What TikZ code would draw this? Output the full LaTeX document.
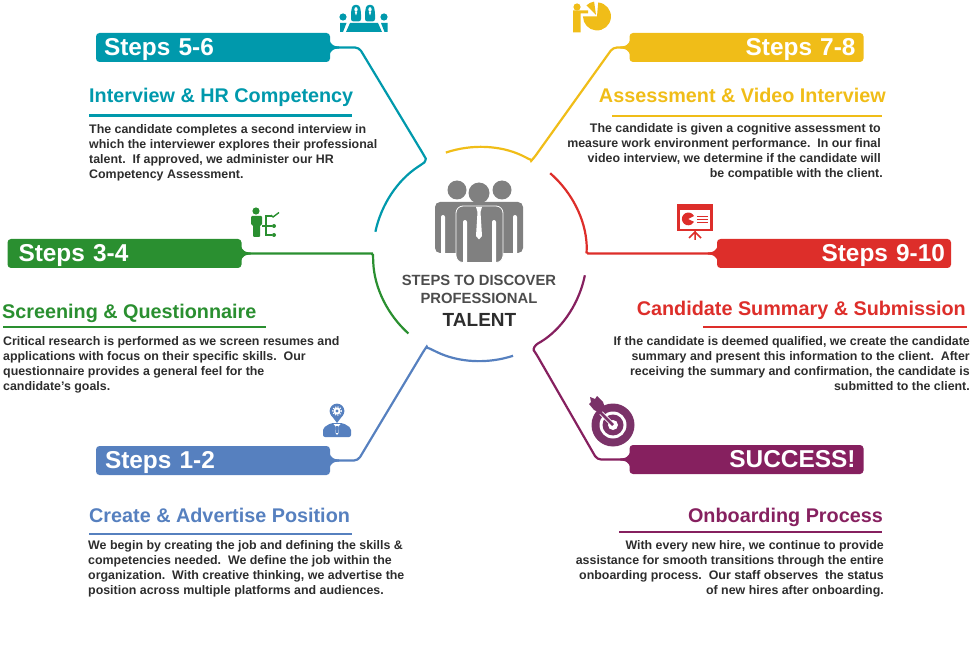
\documentclass[tikz,border=0pt]{standalone}
\usepackage{fontspec}
\setmainfont{Liberation Sans}
\usepackage{xcolor}
\usetikzlibrary{calc}
\definecolor{hrteal}{RGB}{0,153,172}
\definecolor{hrgreen}{RGB}{42,143,48}
\definecolor{hrblue}{RGB}{86,128,191}
\definecolor{hryellow}{RGB}{240,189,24}
\definecolor{hrred}{RGB}{221,46,42}
\definecolor{hrpurple}{RGB}{134,32,95}
\definecolor{hrtarget}{RGB}{122,50,104}
\definecolor{hrgray}{RGB}{128,128,128}
\definecolor{hrtext}{RGB}{45,45,45}
\tikzset{
  stepbar/.style={rectangle,rounded corners=3.5pt,minimum height=29pt,minimum width=234pt,
    text width=218pt,inner sep=0pt,text=white,
    font=\fontsize{24.4}{26}\bfseries\selectfont,text height=18pt,text depth=2pt},
  headtext/.style={inner sep=0pt,font=\fontsize{19.8}{22}\bfseries\selectfont},
  bodyleft/.style={inner sep=0pt,anchor=north west,align=left,text=hrtext,
    font=\fontsize{12.4}{15}\bfseries\selectfont},
  bodyright/.style={bodyleft,anchor=north east,align=right},
  ringline/.style={line width=2.2pt,rounded corners=4pt},
  underline/.style={line width=2.4pt},
  centertext/.style={inner sep=0pt,text=hrtext!85,font=\fontsize{14.8}{16}\bfseries\selectfont}
}
\begin{document}
\begin{tikzpicture}[x=1pt,y=-1pt]
    \useasboundingbox (0,0) rectangle (970,647);
    % step bars
    \node[stepbar,fill=hrteal,align=left] (barthree) at (213,47.5) {Steps 5-6};
    \node[stepbar,fill=hrgreen,align=left] (bartwo) at (124.5,253.5) {\hspace*{3pt}Steps 3-4};
    \node[stepbar,fill=hrblue,align=left] (barone) at (213,460.5) {\hspace*{1pt}Steps 1-2};
    \node[stepbar,fill=hryellow,align=right] (barfour) at (746.5,47.5) {Steps 7-8};
    \node[stepbar,fill=hrred,align=right] (barfive) at (834,253.5) {Steps 9-10\hspace*{-2pt}};
    \node[stepbar,fill=hrpurple,align=right] (barsix) at (746.5,459.5) {SUCCESS!};
    % little flares where a line leaves a bar
    \foreach \bar/\side/\sgn/\col in {barthree/east/1/hrteal,bartwo/east/1/hrgreen,barone/east/1/hrblue,
        barfour/west/-1/hryellow,barfive/west/-1/hrred,barsix/west/-1/hrpurple}
      \fill[\col,shift={(\bar.\side)},xscale=\sgn] (-1,-7.5) .. controls (1,-3) and (3,-1) .. (9,-1)
        -- (9,1) .. controls (3,1) and (1,3) .. (-1,7.5) -- cycle;
    % lines around the ring
    \draw[hrteal,ringline] (barthree.east) -- (359,47.5) -- (423.9,155.2)
      .. controls (425.96,159) and (424.9,162.1) .. (421,164.8) arc[start angle=123.5,end angle=168,radius=107pt];
    \draw[hrgreen,ringline] (bartwo.east) -- (368,253.5)
      .. controls (371.3,253.5) and (373.03,255.3) .. (373.1,259) arc[start angle=182.7,end angle=228,radius=107pt];
    \draw[hrblue,ringline] (barone.east) -- (358,460.5) -- (424.4,349.8)
      .. controls (425.8,347.9) and (428.7,348.1) .. (433.1,350.2) arc[start angle=244,end angle=288,radius=107pt];
    \draw[hryellow,ringline] (barfour.west) -- (613,47.5) -- (533.9,158)
      .. controls (532.3,159.7) and (529.4,159.3) .. (525.2,157) arc[start angle=65,end angle=108.6,radius=107pt];
    \draw[hrred,ringline] (barfive.west) -- (592,253.5)
      .. controls (588.3,253.5) and (586.6,251.8) .. (586.85,248.4) arc[start angle=3,end angle=49,radius=107pt];
    \draw[hrpurple,ringline] (barsix.west) -- (597,459.5) -- (536,353.5)
      .. controls (533,349.2) and (534.8,345.2) .. (541.4,341.6) arc[start angle=-55,end angle=-11.5,radius=107pt];
    % center people
    \fill[hrgray] (457,190) circle (9.5);
    \fill[hrgray] (502,190) circle (9.5);
    \fill[hrgray,rounded corners=5pt] (435,202) rectangle (523,253);
    \filldraw[white,fill=hrgray,line width=0.8pt,rounded corners=7pt] (456,262.5) rectangle (503,206);
    \fill[hrgray] (479,193) circle (10.5);
    \fill[white] (463,222) arc[start angle=180,end angle=0,radius=2pt] -- (467,263) -- (463,263) -- cycle;
    \fill[white] (492,222) arc[start angle=180,end angle=0,radius=2pt] -- (496,263) -- (492,263) -- cycle;
    \fill[white] (441,217) arc[start angle=180,end angle=0,radius=2pt] -- (445,253) -- (441,253) -- cycle;
    \fill[white] (513,217) arc[start angle=180,end angle=0,radius=2pt] -- (517,253) -- (513,253) -- cycle;
    \fill[white] (476,207) -- (482,207) -- (480.5,212) -- (482,236) -- (479,239.5) -- (476,236) -- (477.5,212) -- cycle;
    % center text
    \node[centertext] (stepstext) at (479,280) {STEPS TO DISCOVER};
    \node[centertext] (proftext) at (479,298) {PROFESSIONAL};
    \node[centertext,text=hrtext,font=\fontsize{19}{21}\bfseries\selectfont] (talenttext) at (479.5,320) {TALENT};
    % headings
    \node[headtext,text=hrteal,anchor=base west] (headthree) at (89,102.5) {Interview \& HR Competency};
    \draw[hrteal,underline] (89,115.5) -- (352,115.5);
    \node[headtext,text=hrgreen,anchor=base west] (headtwo) at (2,318.5) {Screening \& Questionnaire};
    \draw[hrgreen,underline] (3,327) -- (266,327);
    \node[headtext,text=hrblue,anchor=base west] (headone) at (89,522) {Create \& Advertise Position};
    \draw[hrblue,underline] (89,534) -- (352,534);
    \node[headtext,text=hryellow,anchor=base east] (headfour) at (886,102.5) {Assessment \& Video Interview};
    \draw[hryellow,underline] (612,116) -- (882,116);
    \node[headtext,text=hrred,anchor=base east] (headfive) at (966,316) {Candidate Summary \& Submission};
    \draw[hrred,underline] (703,327) -- (967,327);
    \node[headtext,text=hrpurple,anchor=base east] (headsix) at (883,522) {Onboarding Process};
    \draw[hrpurple,underline] (619,532) -- (882,532);
    % body text
    \node[bodyleft] (textthree) at (89,124.5) {The candidate completes a second interview in\\
      which the interviewer explores their professional\\
      talent.\ \ If approved, we administer our HR\\
      Competency Assessment.};
    \node[bodyleft] (texttwo) at (3,336.5) {Critical research is performed as we screen resumes and\\
      applications with focus on their specific skills.\ \ Our\\
      questionnaire provides a general feel for the\\
      candidate’s goals.};
    \node[bodyleft] (textone) at (88,540.5) {We begin by creating the job and defining the skills \&\\
      competencies needed.\ \ We define the job within the\\
      organization.\ \ With creative thinking, we advertise the\\
      position across multiple platforms and audiences.};
    \node[bodyright] (textfour) at (881,123.5) {The candidate is given a cognitive assessment to\\
      measure work environment performance.\ \ In our final\\
      video interview, we determine if the candidate will\\
      be compatible with the client.\hspace*{-2pt}};
    \node[bodyright] (textfive) at (970,336.5) {If the candidate is deemed qualified, we create the candidate\\
      summary and present this information to the client.\ \ After\\
      receiving the summary and confirmation, the candidate is\\
      submitted to the client.};
    \node[bodyright] (textsix) at (884,540.5) {With every new hire, we continue to provide\\
      assistance for smooth transitions through the entire\\
      onboarding process.\ \ Our staff observes\ \ the status\\
      of new hires after onboarding.};
    % meeting icon
    \fill[hrteal] (343,17) circle (3.6) (384,17) circle (3.6);
    \fill[hrteal] (340,23) -- (346.5,23) -- (343,32) -- (340,32) -- cycle;
    \fill[hrteal] (387.5,23) -- (381,23) -- (384.5,32) -- (387.5,32) -- cycle;
    \fill[hrteal] (350,23) -- (378,23) -- (382,32) -- (346,32) -- cycle;
    \fill[hrteal,rounded corners=2.5pt] (351,21.5) -- (351,12) -- (352.5,5) -- (359.5,5) -- (361,12) -- (361,21.5) -- cycle;
    \fill[hrteal,rounded corners=2.5pt] (365,21.5) -- (365,12) -- (366.5,5) -- (373.5,5) -- (375,12) -- (375,21.5) -- cycle;
    \fill[white] (356,9.5) ellipse (1.6 and 2.4) (370,9.5) ellipse (1.6 and 2.4);
    \fill[white] (354.8,12) -- (357.2,12) -- (356,15.5) -- cycle (368.8,12) -- (371.2,12) -- (370,15.5) -- cycle;
    % chart icon
    \fill[hryellow] (577,7) circle (3.6);
    \fill[hryellow] (573,10.5) -- (588,10.5) -- (588,13.5) -- (580.5,13.5) -- (580.5,32.5) -- (573,32.5) -- cycle;
    \fill[hryellow] (597,16.5) -- (598.2,2.5) arc[start angle=85,end angle=-180,radius=14pt] -- cycle;
    \fill[hryellow] (596,15) -- (594.1,1.6) arc[start angle=98,end angle=135,radius=13.5pt] -- cycle;
    % checklist icon
    \fill[hrgreen] (256,211) circle (3.6);
    \fill[hrgreen,rounded corners=1pt] (251,216) -- (262,216) -- (262,225) -- (260,225) -- (260,237) -- (253,237) -- (253,225) -- (251,225) -- cycle;
    \draw[hrgreen,line width=1.4pt] (272,216) -- (266,216) -- (266,235) -- (272,235) (266,226) -- (272,226) (262,226) -- (266,226);
    \draw[hrgreen,line width=1.4pt] (271,215) -- (273,217) -- (279,212.5);
    \fill[hrgreen] (274,226) circle (2) (274,235) circle (2);
    % board icon
    \draw[hrred,line width=2.4pt] (678.5,207) rectangle (711.5,230);
    \fill[hrred] (677,204) rectangle (713,210);
    \fill[hrred] (688,219) -- (694,216) arc[start angle=27,end angle=333,radius=6.4pt] -- cycle;
    \draw[hrred,line width=1pt] (697,217) -- (708,217) (697,219.7) -- (708,219.7) (697,222.4) -- (708,222.4);
    \draw[hrred,line width=1.5pt] (695,231) -- (695,240) (695,232) -- (689,238) (695,232) -- (701,238);
    % target icon
    \fill[hrtarget] (613,425) circle (21.5);
    \fill[white] (613,425) circle (13.5);
    \fill[hrtarget] (613,425) circle (10.5);
    \fill[white] (613,425) circle (5);
    \draw[white,line width=4.5pt] (612,424) -- (601,413);
    \draw[hrtarget,line width=2.5pt] (613,425) -- (598,410);
    \fill[hrtarget] (600,413) -- (594,410) -- (589,404) -- (591,402) -- (590,397) -- (595,399) -- (597,396) -- (603,402) -- (605,408) -- cycle;
    % manager icon
    \fill[hrblue] (337,411) circle (7.4);
    \fill[hrblue] (331,415) -- (337,423) -- (343,415) -- cycle;
    \fill[hrblue,rounded corners=2pt] (323,437) -- (323,428) -- (331,423) -- (343,423) -- (351,428) -- (351,437) -- cycle;
    \fill[white] (337,411) circle (3.6);
    \fill[hrblue] (337,411) circle (1.6);
    \draw[white,line width=1pt,dash pattern=on 1.2pt off 1.4pt] (337,411) circle (4.4);
    \fill[white] (333.5,424) -- (340.5,424) -- (338,427) -- (338.5,433) -- (337,435) -- (335.5,433) -- (336,427) -- cycle;
    \fill[hrblue] (336.3,426) rectangle (337.7,433);
\end{tikzpicture}
\end{document}
